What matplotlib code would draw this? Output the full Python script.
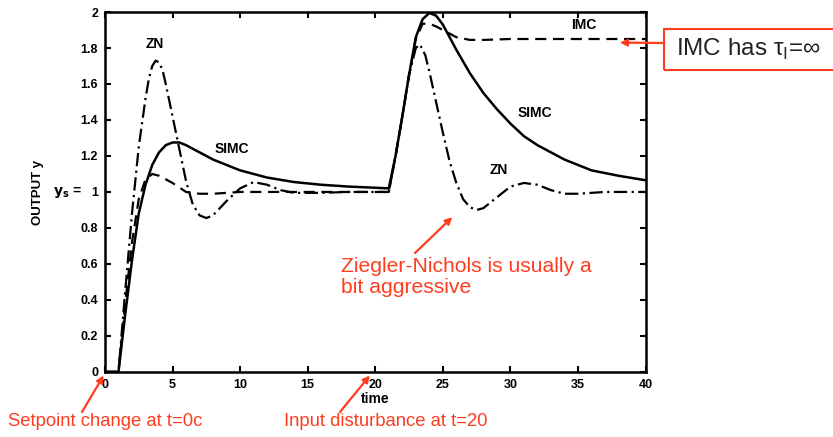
import numpy as np
import matplotlib.pyplot as plt

plt.rcParams['font.family'] = ['Liberation Sans', 'DejaVu Sans']

# SIMC (solid)
t_simc = [0, 1, 1.5, 2, 2.5, 3, 3.5, 4, 4.5, 5, 5.5, 6, 7, 8, 9, 10, 12, 14, 16, 18, 21,
          21.5, 22, 22.5, 23, 23.5, 24, 24.5, 25, 25.5, 26, 27, 28, 29, 30, 31, 32, 34, 36, 38, 40]
y_simc = [0, 0, 0.32, 0.62, 0.88, 1.04, 1.15, 1.22, 1.26, 1.275, 1.275, 1.26, 1.22, 1.18, 1.15, 1.12, 1.08, 1.055, 1.04, 1.03, 1.02,
          1.2, 1.42, 1.65, 1.86, 1.96, 1.995, 1.98, 1.93, 1.86, 1.79, 1.66, 1.55, 1.46, 1.38, 1.31, 1.26, 1.18, 1.12, 1.09, 1.065]

# IMC (dashed)
t_imc = [0, 1, 1.5, 2, 2.5, 3, 3.5, 4, 5, 6, 7, 8, 10, 12, 15, 18, 21,
         21.5, 22, 22.5, 23, 23.5, 24, 24.5, 25, 26, 27, 28, 30, 35, 40]
y_imc = [0, 0, 0.38, 0.72, 0.96, 1.07, 1.1, 1.09, 1.05, 1.0, 0.99, 0.99, 1.0, 1.0, 1.0, 1.0, 1.0,
         1.2, 1.42, 1.65, 1.85, 1.935, 1.935, 1.92, 1.9, 1.86, 1.845, 1.845, 1.85, 1.85, 1.85]

# ZN (dash-dot)
t_zn = [0, 1, 1.5, 2, 2.5, 3, 3.25, 3.5, 3.75, 4, 4.25, 4.5, 5, 5.5, 6, 6.5, 7, 7.5, 8, 9, 10, 11, 12, 13, 14, 16, 18, 21,
        21.5, 22, 22.5, 23, 23.3, 23.7, 24, 24.5, 25, 25.5, 26, 26.5, 27, 27.5, 28, 29, 30, 31, 32, 33, 34, 35, 37, 40]
y_zn = [0, 0, 0.45, 0.88, 1.25, 1.52, 1.63, 1.7, 1.73, 1.72, 1.68, 1.6, 1.42, 1.24, 1.06, 0.93, 0.87, 0.855, 0.87, 0.95, 1.02, 1.055, 1.04, 1.01, 0.995, 0.995, 1.0, 1.0,
        1.2, 1.42, 1.65, 1.8, 1.82, 1.76, 1.67, 1.5, 1.33, 1.17, 1.05, 0.96, 0.915, 0.9, 0.91, 0.97, 1.03, 1.05, 1.04, 1.01, 0.99, 0.99, 1.0, 1.0]

red = '#FF3C1E'

fig = plt.figure(figsize=(8.33, 4.37), dpi=100)
ax = fig.add_axes([0.126, 0.149, 0.649, 0.8235])

ax.plot(t_simc, y_simc, 'k-', lw=1.8)
ax.plot(t_imc, y_imc, 'k', ls=(0, (5, 3)), lw=1.6)
ax.plot(t_zn, y_zn, 'k', ls=(0, (6, 2, 1, 2)), lw=1.6)

ax.set_xlim(0, 40)
ax.set_ylim(0, 2)
ax.set_xticks([0, 5, 10, 15, 20, 25, 30, 35, 40])
ax.set_yticks([0, 0.2, 0.4, 0.6, 0.8, 1, 1.2, 1.4, 1.6, 1.8, 2])
ax.set_yticklabels(['0', '0.2', '0.4', '0.6', '0.8', '1', '1.2', '1.4', '1.6', '1.8', '2'])
ax.tick_params(direction='in', top=True, right=True, length=4, width=1.5, labelsize=9, pad=5)
for lab in ax.get_xticklabels() + ax.get_yticklabels():
    lab.set_fontweight('bold')
for s in ax.spines.values():
    s.set_linewidth(1.8)

ax.set_xlabel('time', fontsize=10, fontweight='bold', labelpad=1)
ax.set_ylabel('OUTPUT y', fontsize=9.5, fontweight='bold', labelpad=26)
fig.text(53 / 833, 1 - 193 / 437, '$\\mathbf{y_s}$ =', fontsize=10, fontweight='bold', va='center')

ax.text(3.7, 1.82, 'ZN', fontsize=10, fontweight='bold', ha='center', va='center')
ax.text(9.4, 1.24, 'SIMC', fontsize=10, fontweight='bold', ha='center', va='center')
ax.text(29.1, 1.12, 'ZN', fontsize=10, fontweight='bold', ha='center', va='center')
ax.text(31.8, 1.44, 'SIMC', fontsize=10, fontweight='bold', ha='center', va='center')
ax.text(35.4, 1.93, 'IMC', fontsize=10, fontweight='bold', ha='center', va='center')

arrow = dict(arrowstyle='-|>', color=red, lw=1.6, mutation_scale=10, shrinkA=0, shrinkB=0)

ax.annotate('', xy=(-0.1, -0.02), xytext=(82 / 833, 1 - 412 / 437),
            textcoords='figure fraction', arrowprops=arrow, annotation_clip=False)
fig.text(8 / 833, 1 - 421 / 437, 'Setpoint change at t=0c', color=red, fontsize=13.3, va='center')

ax.annotate('', xy=(19.6, -0.02), xytext=(340 / 833, 1 - 412 / 437),
            textcoords='figure fraction', arrowprops=arrow, annotation_clip=False)
fig.text(284 / 833, 1 - 421 / 437, 'Input disturbance at t=20', color=red, fontsize=13.3, va='center')

ax.annotate('', xy=(25.7, 0.86), xytext=(415 / 833, 1 - 253 / 437),
            textcoords='figure fraction', arrowprops=arrow, annotation_clip=False)
fig.text(341 / 833, 1 - 277 / 437, 'Ziegler-Nichols is usually a\nbit aggressive', color=red,
         fontsize=15.2, va='center', linespacing=1.1)

ax.annotate('', xy=(38.1, 1.83), xytext=(664 / 833, 1 - 43 / 437),
            textcoords='figure fraction', arrowprops=arrow, annotation_clip=False)
box = plt.Rectangle((664 / 833, 1 - 70 / 437), 0.25, 41 / 437, transform=fig.transFigure,
                    fill=False, edgecolor=red, lw=1.5, clip_on=False)
fig.patches.append(box)
fig.text(676 / 833, 1 - 49 / 437, 'IMC has τ$_\\mathregular{I}$=∞', color='#222222', fontsize=17.5, va='center')

fig.savefig('out.png', dpi=100)
